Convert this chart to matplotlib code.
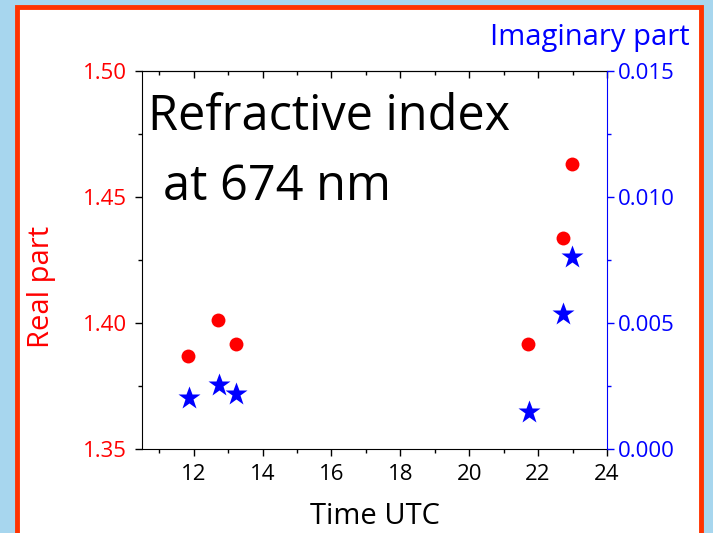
import matplotlib
matplotlib.use("Agg")
import matplotlib.pyplot as plt
from matplotlib.patches import Rectangle
from matplotlib.ticker import MultipleLocator

plt.rcParams['font.family'] = ['Open Sans', 'DejaVu Sans']

# measurement times (UTC hours) and refractive index at 674 nm
time_real = [11.83, 12.71, 13.23, 21.72, 22.72, 22.97]
real_part = [1.3869, 1.4010, 1.3918, 1.3918, 1.4337, 1.4630]

time_imag = [11.85, 12.73, 13.24, 21.73, 22.72, 22.98]
imag_part = [0.00201, 0.00254, 0.00217, 0.00148, 0.00536, 0.00762]

real_ticks = [1.35, 1.40, 1.45, 1.50]
imag_ticks = [0.000, 0.005, 0.010, 0.015]
time_ticks = [12, 14, 16, 18, 20, 22, 24]

W, H = 713, 533
fig = plt.figure(figsize=(W / 100, H / 100), dpi=100)
fig.patch.set_facecolor('#a7d6ee')

# white panel with orange-red frame
panel = Rectangle((17 / W, -0.05), (701 - 17) / W, 1.05 - 7 / H,
                  transform=fig.transFigure, facecolor='white',
                  edgecolor='#ff3300', linewidth=3.5, zorder=-10)
fig.patches.append(panel)

ax = fig.add_axes([142 / W, 84 / H, 465 / W, 378 / H])
ax.set_facecolor('none')
ax2 = ax.twinx()

ax.plot(time_real, real_part, 'o', color='red', ms=10, mec='none', zorder=3)
ax2.plot(time_imag, imag_part, '*', color='blue', ms=17, mec='none', zorder=3)

ax.set_xlim(10.5, 24)
ax.set_ylim(1.35, 1.50)
ax2.set_ylim(0.0, 0.015)

ax.set_xticks(time_ticks)
ax.xaxis.set_minor_locator(MultipleLocator(1))
ax.set_yticks(real_ticks)
ax.set_yticklabels(['%.2f' % v for v in real_ticks])
ax.yaxis.set_minor_locator(MultipleLocator(0.025))
ax2.set_yticks(imag_ticks)
ax2.set_yticklabels(['%.3f' % v for v in imag_ticks])
ax2.yaxis.set_minor_locator(MultipleLocator(0.0025))

ax.tick_params(axis='x', which='major', direction='out', length=5, width=1,
               labelsize=16, colors='black', pad=6)
ax.tick_params(axis='x', which='minor', direction='out', length=3, width=1)
ax.tick_params(axis='y', which='major', direction='out', length=5, width=1,
               labelsize=16, labelcolor='red', color='black', pad=6)
ax.tick_params(axis='y', which='minor', direction='out', length=3, width=1)
ax2.tick_params(axis='y', which='major', direction='out', length=5, width=1,
                labelsize=16, colors='blue', pad=3)
ax2.tick_params(axis='y', which='minor', direction='out', length=3, width=1,
                colors='blue')

# top axis: ticks only, pointing inward
top = ax.secondary_xaxis('top')
top.set_xticks(time_ticks)
top.xaxis.set_minor_locator(MultipleLocator(1))
top.tick_params(which='major', direction='in', length=5, width=1, labeltop=False)
top.tick_params(which='minor', direction='in', length=3, width=1)

ax2.spines['right'].set_color('blue')
ax2.spines['left'].set_visible(False)
ax2.spines['top'].set_visible(False)
ax2.spines['bottom'].set_visible(False)
for s in ['left', 'bottom', 'top']:
    ax.spines[s].set_color('black')
ax.spines['right'].set_visible(False)

ax.set_xlabel('Time UTC', fontsize=21, color='black', labelpad=12)
ax.set_ylabel('Real part', fontsize=21, color='red')
ax.yaxis.set_label_coords(-0.185, 0.43)
fig.text(690 / W, 1 - 45 / H, 'Imaginary part', fontsize=21,
         color='blue', ha='right', va='baseline')

ax.text(0.013, (449 - 130) / 378, 'Refractive index', transform=ax.transAxes,
        fontsize=35, color='black', ha='left', va='baseline')
ax.text(0.045, (449 - 200) / 378, 'at 674 nm', transform=ax.transAxes,
        fontsize=35, color='black', ha='left', va='baseline')

fig.savefig('out.png', dpi=100, facecolor=fig.get_facecolor())
